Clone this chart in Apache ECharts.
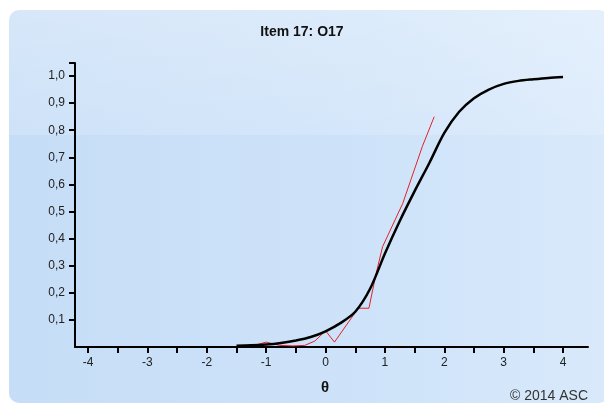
<!DOCTYPE html>
<html>
<head>
<meta charset="utf-8">
<title>Item 17</title>
<script src="https://cdn.jsdelivr.net/npm/echarts@6/dist/echarts.min.js"></script>
<style>
  html, body { margin: 0; padding: 0; background: #fff; }
  #panel {
    position: absolute; left: 9px; top: 10px; width: 600px; height: 393px;
    border-radius: 10px;
    background:
      linear-gradient(to bottom, rgba(255,255,255,0.3) 0px, rgba(255,255,255,0.14) 125px, rgba(255,255,255,0) 125px),
      linear-gradient(to right, #c6ddf7 0%, #cee3f9 60%, #d9e9fb 100%);
  }
  #main { position: absolute; left: 0; top: 0; width: 604px; height: 407px; }
</style>
</head>
<body>
<div id="panel"></div>
<div id="main"></div>
<script type="text/javascript">
// model curve (theta, P)
var modelTheta = [-1.5, -1.25, -1, -0.75, -0.5, -0.25, 0, 0.25, 0.5, 0.75, 1, 1.25, 1.5, 1.75, 2, 2.25, 2.5, 2.75, 3, 3.25, 3.5, 3.75, 4];
var modelP = [0.005, 0.006, 0.009, 0.015, 0.024, 0.037, 0.058, 0.088, 0.13, 0.215, 0.345, 0.465, 0.575, 0.68, 0.79, 0.868, 0.918, 0.95, 0.971, 0.982, 0.988, 0.993, 0.996];

// observed proportions
var obsTheta = [-1.22, -1.0, -0.78, -0.55, -0.35, -0.18, 0.0, 0.15, 0.55, 0.73, 0.85, 0.96, 1.3, 1.63, 1.83];
var obsP = [0.005, 0.018, 0.006, 0.004, 0.006, 0.022, 0.06, 0.018, 0.143, 0.143, 0.27, 0.37, 0.53, 0.74, 0.85];

var xTicks = [-4, -3.5, -3, -2.5, -2, -1.5, -1, -0.5, 0, 0.5, 1, 1.5, 2, 2.5, 3, 3.5, 4];
var xLabels = [-4, -3, -2, -1, 0, 1, 2, 3, 4];

function pairs(xs, ys) {
	var out = [];
	for (var i = 0; i < xs.length; i++) out.push([xs[i], ys[i]]);
	return out;
}

var myChart = echarts.init(document.getElementById('main'));
var fam = '"Liberation Sans", Arial, sans-serif';

var option = {
	animation: false,
	backgroundColor: 'transparent',
	graphic: [
		{
			type: 'text', left: 'center', top: 25,
			style: { text: 'Item 17: O17', fill: '#111', font: 'bold 14px ' + fam }
		},
		{
			type: 'text', left: 321, top: 380,
			style: { text: 'θ', fill: '#111', font: 'bold 15px ' + fam }
		},
		{
			type: 'text', right: 16, top: 389,
			style: { text: '© 2014 ASC', fill: '#333', font: '14px ' + fam }
		}
	],
	grid: { left: 75, right: 16, top: 63, bottom: 60 },
	xAxis: {
		type: 'value',
		min: -4.22,
		max: 4.42,
		axisLine: { show: true, onZero: false, lineStyle: { color: '#000', width: 2 } },
		axisTick: { show: true, customValues: xTicks, length: 6, lineStyle: { color: '#000', width: 2 } },
		axisLabel: {
			customValues: xLabels, color: '#222', margin: 10,
			fontFamily: fam, fontSize: 12
		},
		splitLine: { show: false }
	},
	yAxis: {
		type: 'value',
		min: 0,
		max: 1.048,
		interval: 0.1,
		axisLine: { show: true, onZero: false, lineStyle: { color: '#000', width: 2 } },
		axisTick: { show: true, length: 6, lineStyle: { color: '#000', width: 2 } },
		axisLabel: {
			show: true, color: '#222', margin: 10, showMinLabel: false,
			fontFamily: fam, fontSize: 12,
			formatter: function (v) { return v > 1.01 ? '' : v.toFixed(1).replace('.', ','); }
		},
		splitLine: { show: false }
	},
	series: [
		{
			name: 'observed',
			type: 'line',
			data: pairs(obsTheta, obsP),
			showSymbol: false,
			lineStyle: { color: '#e0222a', width: 1 },
			z: 3
		},
		{
			name: 'model',
			type: 'line',
			data: pairs(modelTheta, modelP),
			smooth: 0.3,
			showSymbol: false,
			lineStyle: { color: '#000', width: 2.5 },
			z: 4
		}
	]
};

myChart.setOption(option);
</script>
</body>
</html>
